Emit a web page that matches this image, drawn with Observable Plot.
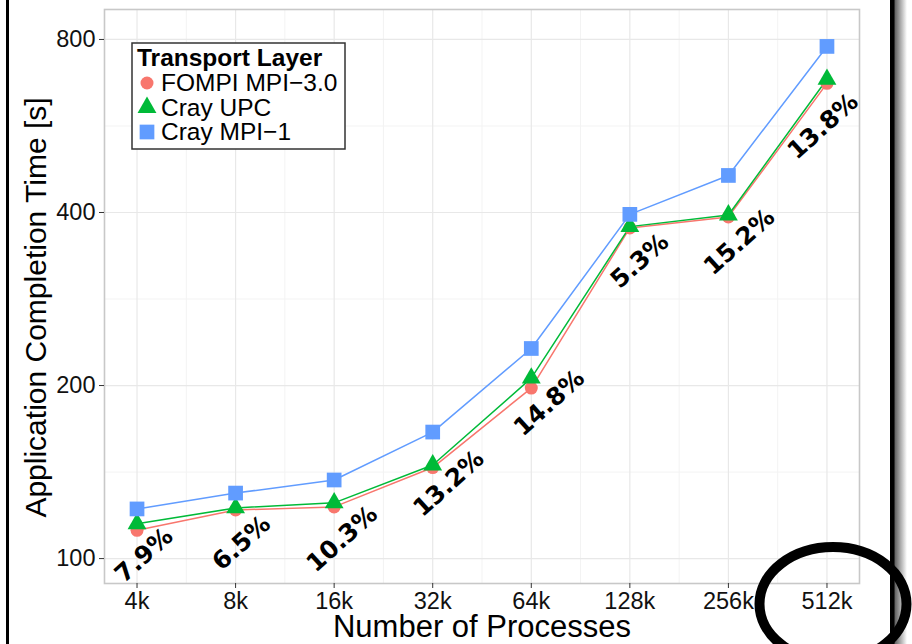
<!DOCTYPE html>
<html><head><meta charset="utf-8">
<script src="https://cdn.jsdelivr.net/npm/d3@7"></script>
<script src="https://cdn.jsdelivr.net/npm/@observablehq/plot@0.6"></script>
<style>
body{margin:0;background:#fff;}
#chart{position:relative;width:912px;height:644px;overflow:hidden;}
</style>
</head><body><div id="chart"></div>
<script>
// ---- data (thousands of processes) ----
const processes = [4, 8, 16, 32, 64, 128, 256, 512];
const tickLabels = ["4k", "8k", "16k", "32k", "64k", "128k", "256k", "512k"];
const fompi    = [112, 121.5, 123, 144, 198, 376, 393, 671];
const crayUPC  = [115, 122.5, 125, 145.5, 206, 378, 396, 682];
const crayMPI1 = [122, 130, 137, 166, 232, 397, 464, 778];
const improvement = ["7.9%", "6.5%", "10.3%", "13.2%", "14.8%", "5.3%", "15.2%", "13.8%"];
const seriesNames = ["FOMPI MPI\u22123.0", "Cray UPC", "Cray MPI\u22121"];
const seriesColors = ["#F8766D", "#00BA38", "#619CFF"];
const yTicks = [100, 200, 400, 800];
const legendTitle = "Transport Layer";
const xTitle = "Number of Processes";
const yTitle = "Application Completion Time [s]";

// ---- layout (not data) ----
const labelOffsets = [[7, 25], [6, 33], [8, 32], [16, 16], [18, 15], [10, 33], [11, 25], [-4, 43]];

const seriesValues = [fompi, crayUPC, crayMPI1];
const rows = [];
seriesNames.forEach((s, si) => processes.forEach((p, i) => rows.push({series: s, p, v: seriesValues[si][i]})));
const minorX = processes.slice(0, -1).map((p, i) => Math.sqrt(p * processes[i + 1]));
const minorY = yTicks.slice(0, -1).map((t, i) => Math.sqrt(t * yTicks[i + 1]));
const pad = 0.33;
const xDomain = [processes[0] * Math.pow(2, -pad), processes[processes.length - 1] * Math.pow(2, pad)];

const symbols = ["circle", "triangle", "square"];
const symR = [6.5, 7, 8.3];
const FONT = "Liberation Sans, Arial, sans-serif";

const labelMarks = improvement.map((t, i) => Plot.text([{p: processes[i], v: fompi[i], t}], {
  x: "p", y: "v", text: "t", rotate: -42, dx: labelOffsets[i][0], dy: labelOffsets[i][1],
  fontSize: 24.5, fontWeight: "bold", fontFamily: "DejaVu Sans", fill: "#000",
  textAnchor: "middle", lineAnchor: "middle"
}));

const plot = Plot.plot({
  width: 912, height: 644,
  marginLeft: 104, marginRight: 53, marginTop: 9, marginBottom: 61,
  style: {fontFamily: FONT, fontSize: "23px", background: "#fff", overflow: "visible"},
  x: {type: "log", base: 2, domain: xDomain},
  y: {type: "log", domain: [90.5, 902]},
  color: {domain: seriesNames, range: seriesColors},
  marks: [
    Plot.ruleY(minorY, {stroke: "#f3f3f3", strokeWidth: 1}),
    Plot.ruleX(minorX, {stroke: "#f3f3f3", strokeWidth: 1}),
    Plot.ruleY(yTicks, {stroke: "#e8e8e8", strokeWidth: 1.2}),
    Plot.ruleX(processes, {stroke: "#e8e8e8", strokeWidth: 1.2}),
    Plot.frame({stroke: "#c8c8c8", strokeWidth: 1.6}),
    Plot.line(rows, {x: "p", y: "v", z: "series", stroke: "series", strokeWidth: 1.5}),
    ...seriesNames.map((s, si) => Plot.dot(rows.filter(r => r.series === s), {
      x: "p", y: "v", symbol: () => symbols[si], r: symR[si], fill: seriesColors[si], stroke: "none"
    })),
    Plot.axisX({ticks: processes, tickFormat: d => tickLabels[processes.indexOf(d)], tickSize: 5, tickPadding: 4,
      stroke: "#333", fill: "#111", fontSize: 23.5, label: null}),
    Plot.axisY({ticks: yTicks, tickFormat: d => String(d), tickSize: 5, tickPadding: 4,
      stroke: "#333", fill: "#111", fontSize: 23.5, label: null}),
    ...labelMarks,
    Plot.text([xTitle], {frameAnchor: "bottom", dy: 44, fontSize: 31, fill: "#000", textAnchor: "middle", lineAnchor: "middle"}),
    Plot.text([yTitle], {frameAnchor: "left", dx: -68, dy: 11, rotate: -90, fontSize: 30, fill: "#000", textAnchor: "middle", lineAnchor: "middle"})
  ]
});
document.getElementById("chart").appendChild(plot);

// ---- legend & annotations drawn on the same svg ----
const svg = d3.select(plot);
const lg = svg.append("g").attr("class", "legend").attr("text-anchor", "start");
lg.append("rect").attr("x", 132).attr("y", 43).attr("width", 213).attr("height", 106)
  .attr("fill", "#fff").attr("stroke", "#333").attr("stroke-width", 1.5);
lg.append("text").attr("x", 137).attr("y", 66).attr("font-size", 24.5).attr("font-weight", "bold")
  .attr("text-anchor", "start").attr("font-family", FONT).text(legendTitle);
const d3sym = [d3.symbolCircle, d3.symbolTriangle, d3.symbolSquare];
seriesNames.forEach((s, i) => {
  const cy = 83 + i * 24.5;
  lg.append("path").attr("transform", `translate(147,${cy})`)
    .attr("d", d3.symbol(d3sym[i], Math.PI * symR[i] * symR[i])())
    .attr("fill", seriesColors[i]);
  lg.append("text").attr("x", 161).attr("y", cy + 8).attr("font-size", 24.5)
    .attr("text-anchor", "start").attr("font-family", FONT).text(s);
});

// page frame and hand-drawn circle annotation
const defs = svg.append("defs");
const grad = defs.append("linearGradient").attr("id", "shadow").attr("x1", "0").attr("x2", "1");
grad.append("stop").attr("offset", "0").attr("stop-color", "#555");
grad.append("stop").attr("offset", "1").attr("stop-color", "#fff");
svg.append("rect").attr("x", 6).attr("y", 0).attr("width", 3).attr("height", 644).attr("fill", "#000");
svg.append("rect").attr("x", 894).attr("y", 0).attr("width", 13).attr("height", 644).attr("fill", "url(#shadow)");
svg.append("rect").attr("x", 890).attr("y", 0).attr("width", 4.5).attr("height", 644).attr("fill", "#000");
svg.append("ellipse").attr("cx", 833).attr("cy", 604).attr("rx", 73.5).attr("ry", 57)
  .attr("fill", "none").attr("stroke", "#000").attr("stroke-width", 10);
</script>
</body></html>
